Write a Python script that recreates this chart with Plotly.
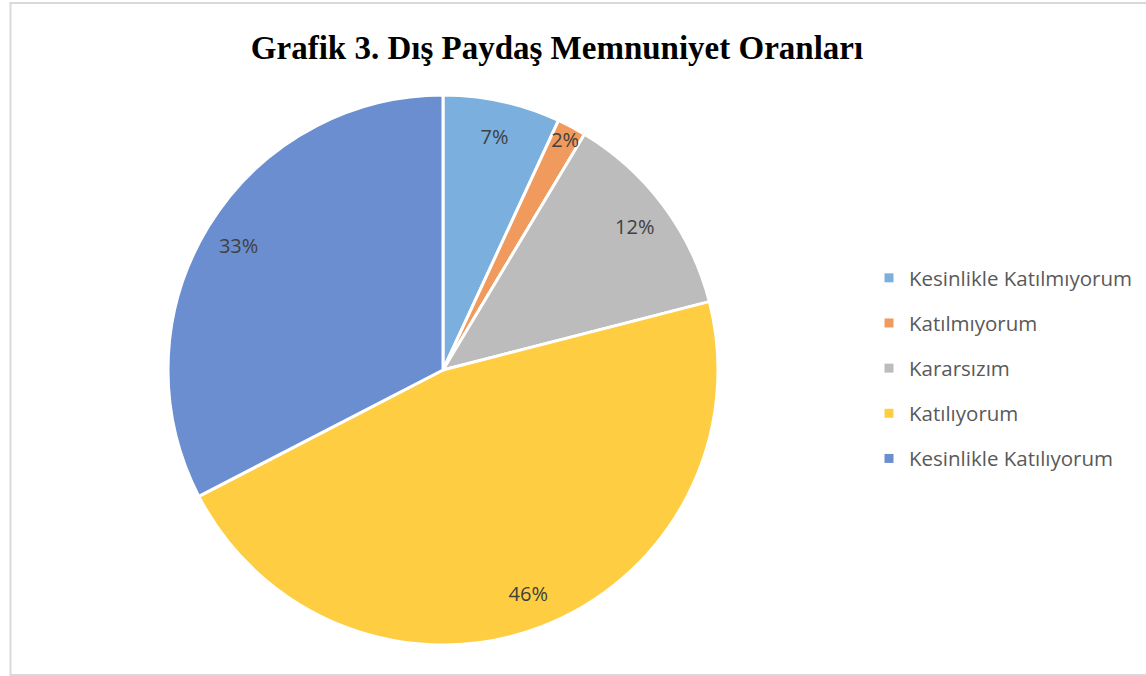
import plotly.graph_objects as go

W, H = 1146, 676

# data
categories = ["Kesinlikle Katılmıyorum", "Katılmıyorum", "Kararsızım",
              "Katılıyorum", "Kesinlikle Katılıyorum"]
shares = [6.9, 1.7, 12.4, 46.4, 32.6]
colors = ["#7BAFDE", "#F09A5E", "#BCBCBC", "#FFCD42", "#6A8ED0"]

title_text = "Grafik 3. Dış Paydaş Memnuniyet Oranları"

# pie box in pixels -> paper (margins are zero)
cx, cy, rad = 443, 370, 275
dom_x = [(cx - rad) / W, (cx + rad) / W]
dom_y = [1 - (cy + rad) / H, 1 - (cy - rad) / H]

fig = go.Figure()

# main pie
fig.add_trace(go.Pie(
    labels=categories, values=shares, sort=False, direction="clockwise",
    rotation=0, marker=dict(colors=colors, line=dict(color="white", width=3)),
    textinfo="none", hoverinfo="label+percent", showlegend=False,
    domain=dict(x=dom_x, y=dom_y),
))

# transparent ring just for the labels near the outer edge
fig.add_trace(go.Pie(
    labels=categories, values=shares, sort=False, direction="clockwise",
    rotation=0, hole=0.74,
    marker=dict(colors=["rgba(0,0,0,0)"] * len(categories), line=dict(width=0)),
    texttemplate="%{percent:.0%}", textposition="inside",
    insidetextorientation="horizontal",
    textfont=dict(family="Open Sans", size=20, color="#404040"),
    hoverinfo="skip", showlegend=False,
    domain=dict(x=dom_x, y=dom_y),
))

# legend entries
for name, col in zip(categories, colors):
    fig.add_trace(go.Scatter(
        x=[None], y=[None], mode="markers", name=name, legendgroup=name,
        marker=dict(symbol="square", size=9, color=col),
    ))

fig.update_layout(
    width=W, height=H,
    margin=dict(l=0, r=0, t=0, b=0),
    paper_bgcolor="white", plot_bgcolor="white",
    xaxis=dict(visible=False), yaxis=dict(visible=False),
    uniformtext=dict(mode="show", minsize=20),
    title=dict(text=title_text, x=557 / W, xanchor="center",
               y=1 - 47 / H, yanchor="middle",
               font=dict(family="Liberation Serif", size=33, color="black", weight="bold")),
    legend=dict(x=869 / W, xanchor="left", y=1 - 258 / H, yanchor="top",
                traceorder="grouped", tracegroupgap=15.5,
                font=dict(family="Open Sans", size=20.5, color="#595959"),
                bgcolor="rgba(0,0,0,0)", itemclick=False),
    shapes=[dict(type="rect", xref="paper", yref="paper",
                 x0=10.5 / W, x1=1.01, y0=1 - 675 / H, y1=1 - 3 / H,
                 line=dict(color="#D9D9D9", width=2), layer="below")],
)

fig.write_html("out.html", config={"displayModeBar": False},
               post_script="document.body.style.margin='0';")
